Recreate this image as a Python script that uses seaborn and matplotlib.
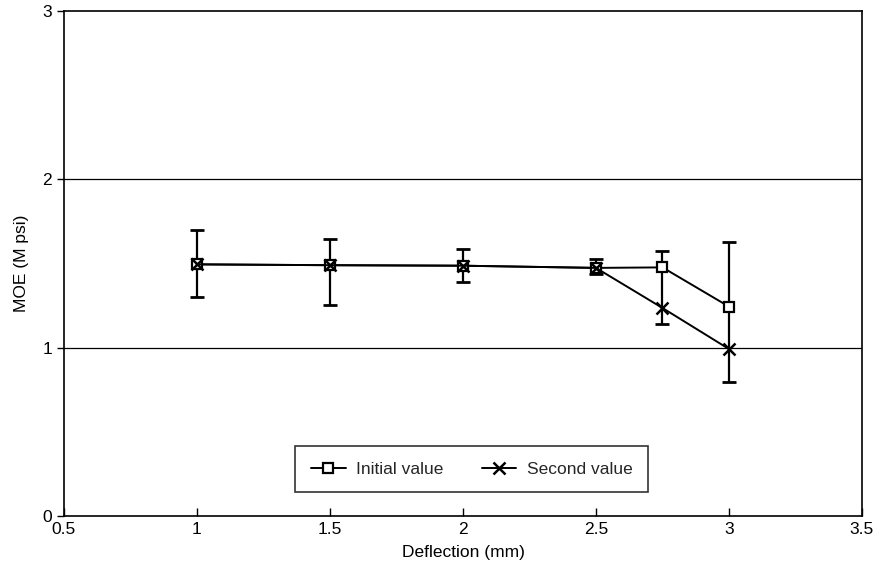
import numpy as np
import pandas as pd
import matplotlib
matplotlib.use("Agg")
import matplotlib.pyplot as plt
import seaborn as sns

# Data
deflection = [1.0, 1.5, 2.0, 2.5, 2.75, 3.0]
initial_value = [1.495, 1.49, 1.487, 1.474, 1.477, 1.244]
second_value = [1.495, 1.49, 1.487, 1.474, 1.236, 0.992]
# vertical extent of the error bars at each deflection
bar_low = [1.30, 1.254, 1.39, 1.438, 1.141, 0.794]
bar_high = [1.70, 1.646, 1.586, 1.527, 1.576, 1.626]

sns.set_theme(style="white")
plt.rcParams['font.family'] = ['Liberation Sans', 'DejaVu Sans']

fig = plt.figure(figsize=(8.91, 5.71), dpi=100)
ax = fig.add_axes([0.0718, 0.0963, 0.8956, 0.8844])

# error bars
yerr = np.array([
    [y - lo for y, lo in zip(initial_value, bar_low)],
    [hi - y for y, hi in zip(initial_value, bar_high)],
])
ax.errorbar(deflection, initial_value, yerr=yerr, fmt="none", ecolor="black",
            elinewidth=1.6, capsize=5, capthick=2.0, zorder=2)

sns.lineplot(x=deflection, y=initial_value, color="black", marker="s",
             label="Initial value", linewidth=1.4, markersize=6.5,
             markerfacecolor="white", markeredgecolor="black",
             markeredgewidth=1.6, ax=ax, zorder=3)
sns.lineplot(x=deflection, y=second_value, color="black", marker="x",
             label="Second value", linewidth=1.4, markersize=8,
             markeredgecolor="black", markeredgewidth=1.8, ax=ax, zorder=4)

ax.set_xlim(0.5, 3.5)
ax.set_ylim(0, 3)
ax.set_xticks([0.5, 1, 1.5, 2, 2.5, 3, 3.5])
ax.set_xticklabels(["0.5", "1", "1.5", "2", "2.5", "3", "3.5"])
ax.set_yticks([0, 1, 2, 3])
for y in [1, 2]:
    ax.axhline(y, color="black", linewidth=0.9, zorder=1)

ax.tick_params(axis="y", direction="out", length=5, width=1, colors="black",
               labelsize=12.5, left=True)
ax.tick_params(axis="x", direction="in", length=6, width=1, colors="black",
               labelsize=12.5, bottom=True, pad=4)
for sp in ax.spines.values():
    sp.set_color("black")
    sp.set_linewidth(1.2)

ax.set_xlabel("Deflection (mm)", fontsize=12.5, color="black", labelpad=6)
ax.set_ylabel("MOE (M psi)", fontsize=12.5, color="black", labelpad=10)

leg = ax.legend(loc="center", bbox_to_anchor=(0.511, 0.093), ncol=2,
                fontsize=12.5, frameon=True, fancybox=False, handlelength=2.0,
                columnspacing=2.2, borderpad=0.9, handletextpad=0.6)
leg.get_frame().set_edgecolor("black")
leg.get_frame().set_linewidth(1.2)

plt.savefig("out.png", dpi=100)
plt.close()
